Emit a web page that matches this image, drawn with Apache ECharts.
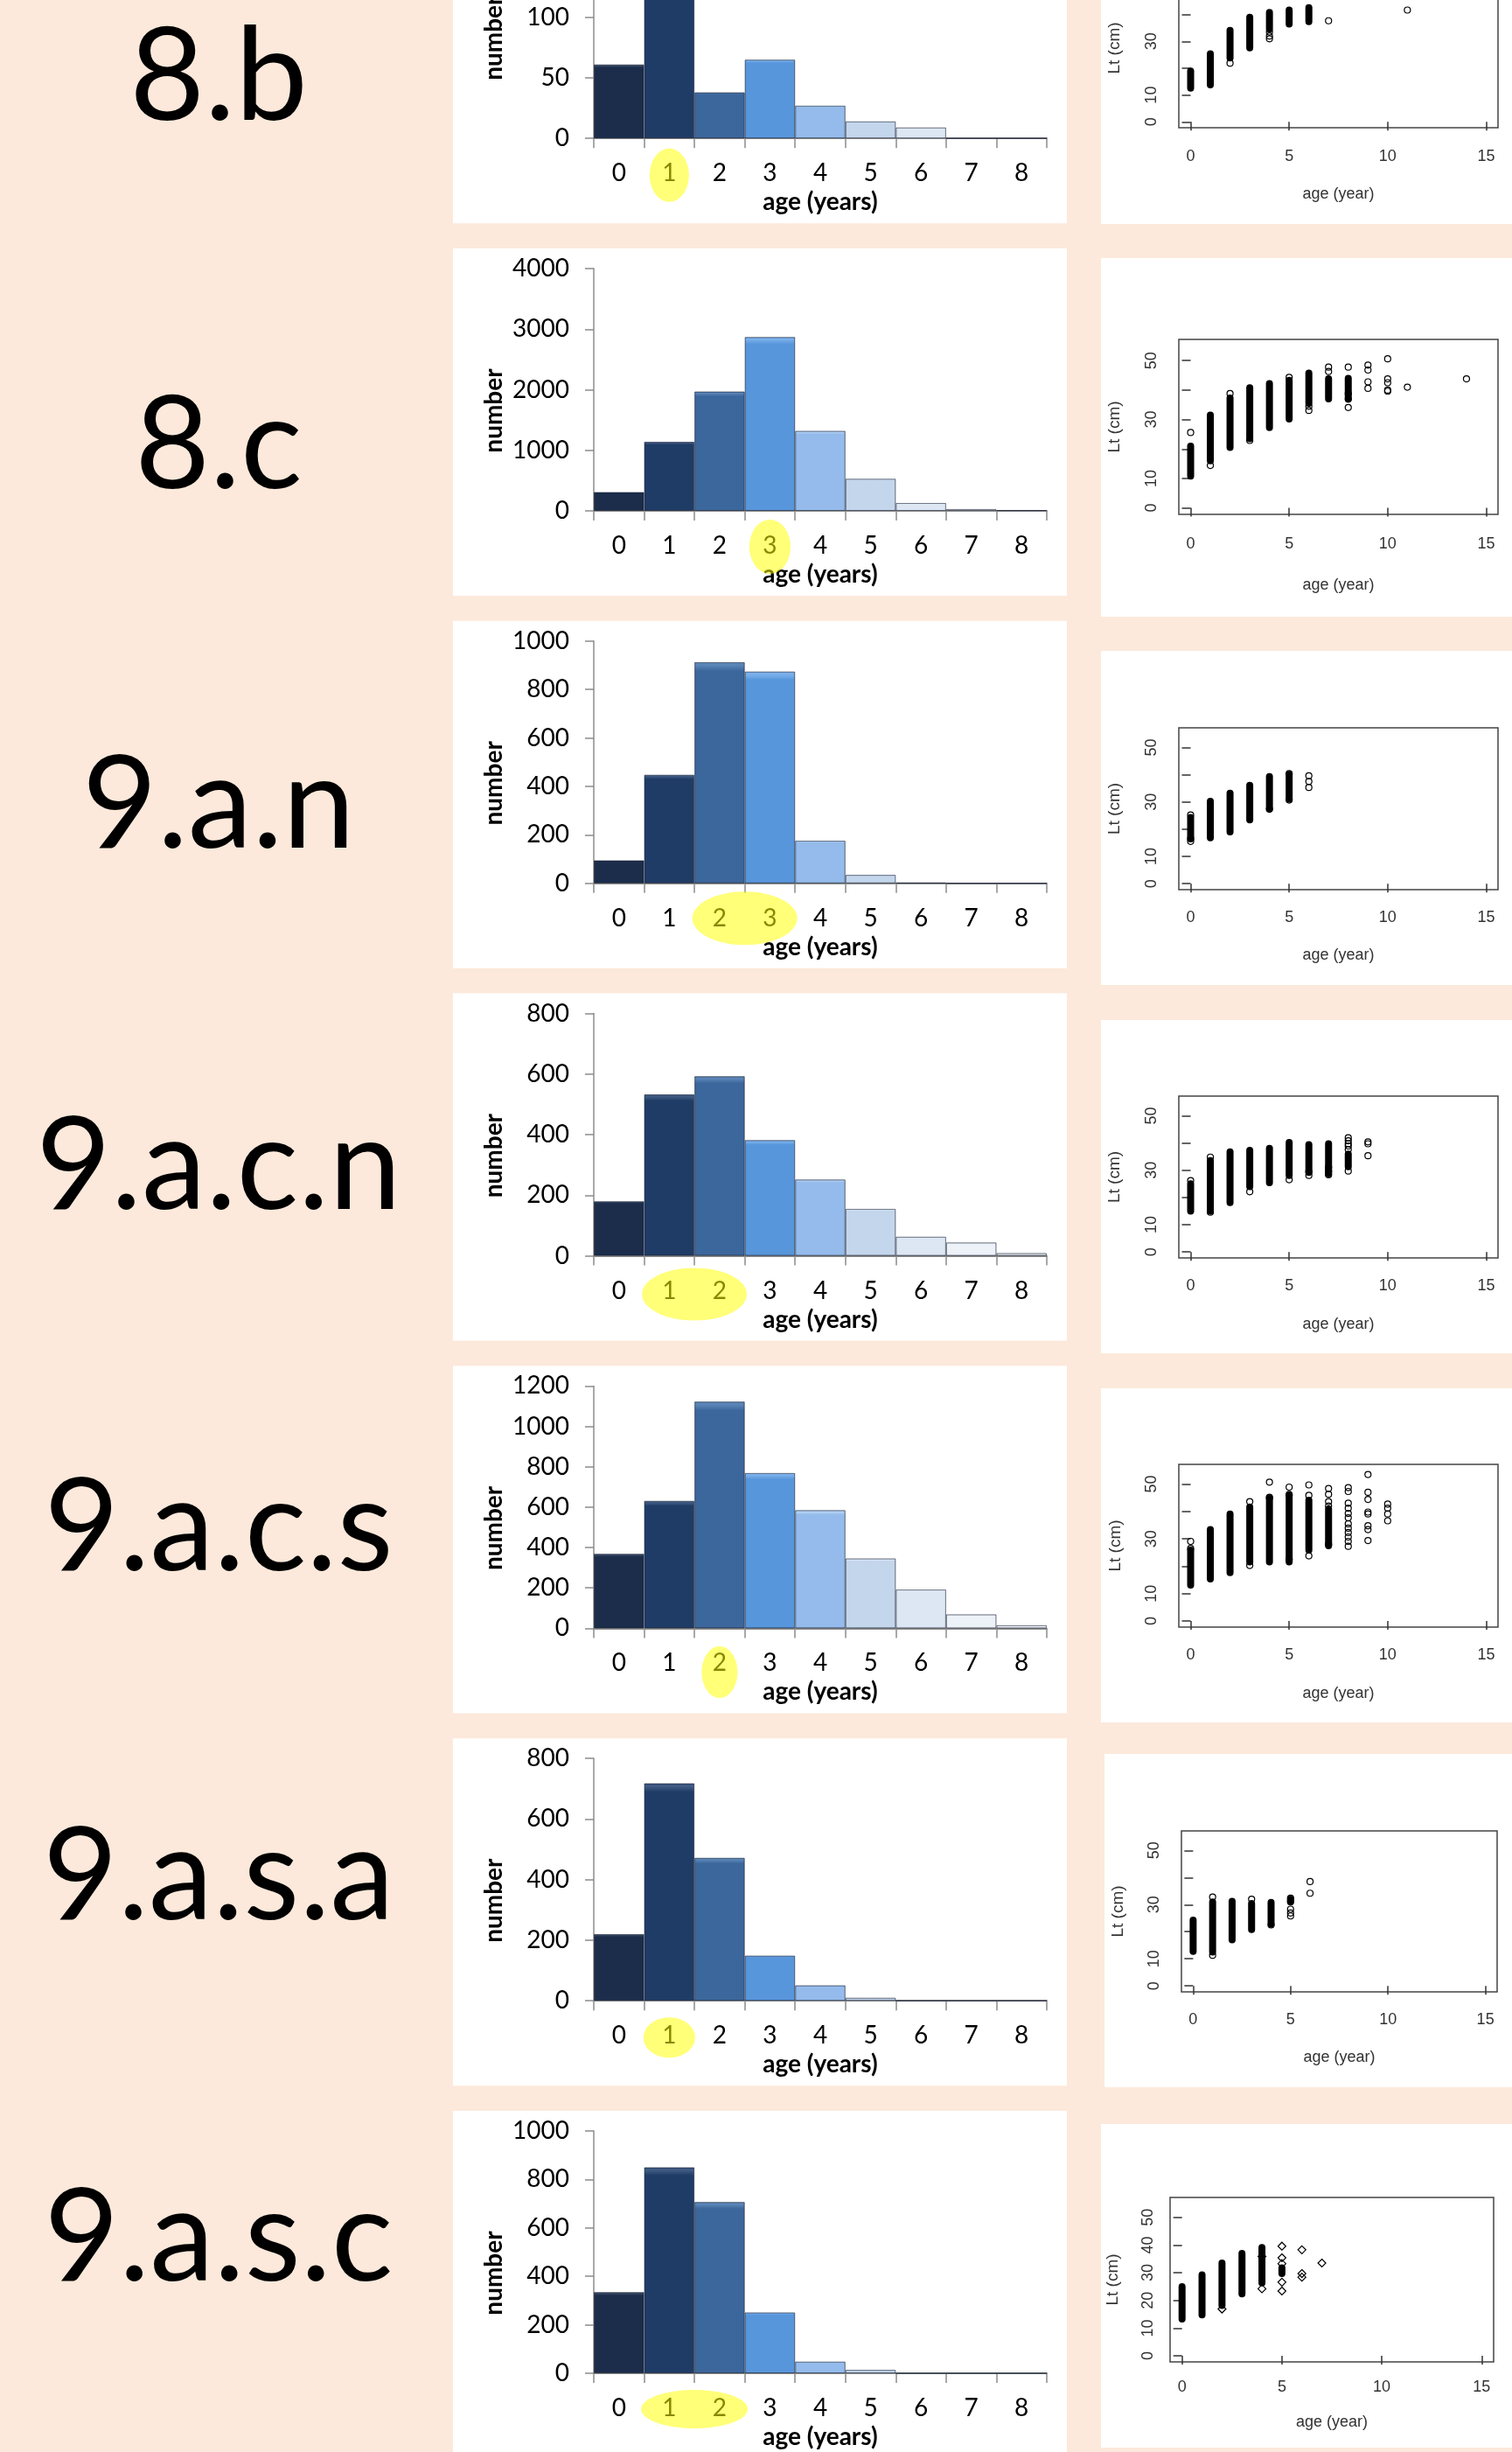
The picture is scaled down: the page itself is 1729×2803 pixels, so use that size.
<!DOCTYPE html>
<html>
<head>
<meta charset="utf-8">
<script src="https://cdn.jsdelivr.net/npm/echarts@6/dist/echarts.min.js"></script>
<style>
  html, body { margin: 0; padding: 0; background: #fce9db; }
  #main { width: 1729px; height: 2803px; }
</style>
</head>
<body>
<div id="main"></div>
<script>
// group codes, one row each
const groups = ['8.b', '8.c', '9.a.n', '9.a.c.n', '9.a.c.s', '9.a.s.a', '9.a.s.c'];
const ages = ['0', '1', '2', '3', '4', '5', '6', '7', '8'];

// number of fish per age class
const count8b   = [61, 150, 38, 65, 27, 14, 9, 0, 0];
const count8c   = [310, 1140, 1970, 2870, 1320, 530, 130, 30, 10];
const count9an  = [95, 448, 913, 874, 176, 35, 3, 0, 0];
const count9acn = [180, 533, 593, 382, 252, 155, 63, 44, 9];
const count9acs = [369, 631, 1123, 769, 585, 346, 192, 69, 15];
const count9asa = [220, 718, 472, 149, 51, 10, 0, 0, 0];
const count9asc = [335, 850, 707, 251, 48, 14, 0, 0, 0];
const counts = [count8b, count8c, count9an, count9acn, count9acs, count9asa, count9asc];

// value axis of each histogram
const countMax  = [200, 4000, 1000, 800, 1200, 800, 1000];
const countStep = [50, 1000, 200, 200, 200, 200, 200];

// age classes marked in yellow
const marked = [[1], [3], [2, 3], [1, 2], [2], [1], [1, 2]];

// length at age: dense runs [age, min, max] and single fish [age, length]
const run8b = [[0, 12.6, 18.9], [1, 13.8, 25.4], [2, 23.8, 34.1], [3, 27.6, 39], [4, 34.6, 40.8], [5, 36.5, 41.7], [6, 37.4, 42.6]];
const fish8b = [[2, 21.9], [4, 33.5], [4, 32], [4, 31], [7, 37.7], [11, 41.7]];
const run8c = [[0, 10.8, 21], [1, 16, 31.5], [2, 20.5, 37.3], [3, 23.5, 40.8], [4, 27.3, 42.2], [5, 30.2, 43.3], [6, 35.5, 45.8], [7, 37, 43.8], [8, 37, 44]];
const fish8c = [[0, 25.6], [1, 14.4], [2, 38.8], [3, 22.9], [5, 44.3], [6, 33.1], [6, 34.5], [7, 47.8], [7, 46.3], [8, 47.8], [8, 38.8], [8, 36.9], [8, 34.1],
  [9, 48.5], [9, 46.8], [9, 42.8], [9, 40.6], [10, 50.6], [10, 43.8], [10, 42.5], [10, 40], [10, 39.6], [11, 41], [14, 43.8]];
const run9an = [[0, 16.5, 24.3], [1, 16.8, 30.2], [2, 19, 33.2], [3, 23.4, 36.1], [4, 27.5, 39.3], [5, 31, 40.1]];
const fish9an = [[0, 25.2], [0, 15.5], [0, 16.5], [4, 27.3], [5, 30.7], [5, 40.4], [6, 39.6], [6, 37.5], [6, 35.3]];
const run9acn = [[0, 15, 25], [1, 15, 33.5], [2, 18.1, 36.7], [3, 24, 37.3], [4, 25.4, 38], [5, 28.1, 40.2], [6, 29.2, 39.4], [7, 28.6, 39.7], [8, 31.3, 35.9]];
const fish9acn = [[0, 26.2], [1, 34.8], [1, 14.6], [3, 22.1], [5, 26.5], [6, 28.1], [6, 29.5], [7, 28.3], [7, 29.6], [7, 31],
  [8, 41.9], [8, 40.8], [8, 39.7], [8, 38.9], [8, 37.6], [8, 29.7], [9, 40.4], [9, 39.7], [9, 35.3]];
const run9acs = [[0, 13.1, 25.9], [1, 15.4, 33.4], [2, 17.7, 39.1], [3, 21.6, 41.6], [4, 21.6, 45.2], [5, 21.6, 46.3], [6, 25.9, 44.1], [7, 27.5, 40.9]];
const fish9acs = [[0, 29.1], [0, 26.5], [1, 30.5], [3, 43.6], [3, 20.3], [4, 50.7], [4, 45], [5, 48.9], [5, 46], [5, 22.5], [6, 49.7], [6, 45.9], [6, 23.8],
  [7, 48.4], [7, 46.3], [7, 43.6], [7, 42], [7, 28], [8, 48.7], [8, 47.3], [8, 43], [8, 41.2], [8, 39.3], [8, 37.7], [8, 35.5], [8, 33.9], [8, 32.3],
  [8, 30.7], [8, 29.1], [8, 27.3], [9, 53.5], [9, 47], [9, 44.4], [9, 39.8], [9, 39.1], [9, 34.8], [9, 33.4], [9, 29.4],
  [10, 42.7], [10, 41.2], [10, 39.1], [10, 36.6]];
const run9asa = [[0, 12.7, 24.3], [1, 12.5, 31], [2, 17, 31.2], [3, 20.8, 30.4], [4, 22.7, 30.8], [5, 31, 32]];
const fish9asa = [[1, 32.8], [1, 11.3], [3, 32], [4, 22.5], [5, 32.4], [5, 31.2], [5, 28.3], [5, 26.9], [5, 25.8], [6, 38.5], [6, 34.2]];
const run9asc = [[0, 13.3, 25], [1, 14.8, 29.2], [2, 18.2, 33.5], [3, 22.4, 37], [4, 26.3, 39.1], [5, 29.7, 31.8]];
const fish9asc = [[2, 16.9], [4, 35.9], [4, 24.2], [5, 39.6], [5, 35.4], [5, 33.3], [5, 26.6], [5, 23.4], [6, 38.3], [6, 29.7], [6, 28.4], [7, 33.5]];
const runs = [run8b, run8c, run9an, run9acn, run9acs, run9asa, run9asc];
const fishes = [fish8b, fish8c, fish9an, fish9acn, fish9acs, fish9asa, fish9asc];

const ageTicks = [0, 5, 10, 15];
const lenTicks = [0, 10, 20, 30, 40, 50];
const lenLabels = [0, 10, 30, 50];

// ---- layout / style ----
const rowStep = 425.8;
const barColors = ['#1b2d4b', '#1f3c66', '#3c679c', '#5896dc', '#94bbeb', '#c4d6ec', '#dde7f4', '#edf2f9', '#f5f8fc'];
const barTops = ['#3a4a66', '#3f5a82', '#5a84b6', '#79b0ea', '#b4d2f5', '#dde9f8', '#eef4fb', '#f7faff', '#ffffff'];
const titleY = [89, 510, 921, 1334, 1747, 2146, 2559];
const markStyle = [
  { w: 45, h: 61, dy: 42 }, { w: 47, h: 62, dy: 41 }, { w: 120, h: 61, dy: 40 }, { w: 120, h: 60, dy: 44 },
  { w: 41, h: 59, dy: 50 }, { w: 59, h: 46, dy: 42 }, { w: 122, h: 44, dy: 41 }
];
// scatter panels: white card and plot box
const scPanel = [[1259, -150, 406], [1259, 295, 410], [1259, 744, 382], [1259, 1166, 381], [1259, 1587, 382], [1263, 2005, 381], [1259, 2428, 370]];
const scBox = [[1348, -36, 365, 182], [1348, 388, 365, 200], [1348, 832, 365, 185], [1348, 1253, 365, 185], [1348, 1674, 365, 186], [1351, 2093, 361, 184], [1338, 2512, 370, 188]];
const scLabMargin = [24, 25, 23, 23, 23, 23, 20];
const scNameGap = [67, 72, 66, 67, 67, 66, 60];
const scYNameGap = [64, 64, 64, 64, 63, 63, 56];
const scYLabMargin = [22, 22, 22, 22, 22, 22, 16];

const latin = 'Lato, "Open Sans", sans-serif';
const arial = '"Liberation Sans", Arial, sans-serif';

const chart = echarts.init(document.getElementById('main'), null, { renderer: 'canvas' });

const grid = [], xAxis = [], yAxis = [], series = [], graphic = [];

groups.forEach((g, i) => {
  const pTop = 284 + (i - 1) * rowStep;
  // panels
  graphic.push({ type: 'rect', z: -1, shape: { x: 518, y: pTop, width: 702, height: 397 }, style: { fill: '#fff' } });
  const sp = scPanel[i];
  graphic.push({ type: 'rect', z: -1, shape: { x: sp[0], y: sp[1], width: 1729 - sp[0], height: sp[2] }, style: { fill: '#fff' } });
  graphic.push({
    type: 'text', z: 5, x: 250, y: titleY[i],
    style: { text: g, font: '148px ' + latin, fill: '#000', align: 'center', verticalAlign: 'middle' }
  });

  // histogram
  grid.push({ left: 679, top: pTop + 23, width: 518, height: 277, outerBoundsMode: 'none', containLabel: false });
  xAxis.push({
    gridIndex: 2 * i, type: 'category', data: ages, boundaryGap: true,
    axisLine: { lineStyle: { color: '#8c8c8c', width: 2 } },
    axisTick: { show: true, interval: 0, length: 11, lineStyle: { color: '#8c8c8c', width: 1.5 } },
    axisLabel: { interval: 0, fontFamily: latin, fontSize: 28, color: '#000', margin: 26 },
    name: 'age (years)', nameLocation: 'middle', nameGap: 59, nameMoveOverlap: false,
    nameTextStyle: { fontFamily: latin, fontSize: 28, fontWeight: 'bold', color: '#000' }
  });
  yAxis.push({
    gridIndex: 2 * i, type: 'value', min: 0, max: countMax[i], interval: countStep[i],
    splitLine: { show: false },
    axisLine: { show: true, lineStyle: { color: '#8c8c8c', width: 1.5 } },
    axisTick: { show: true, length: 10, lineStyle: { color: '#8c8c8c', width: 1.5 } },
    axisLabel: { fontFamily: latin, fontSize: 28, color: '#000', margin: 28, formatter: v => String(v) },
    name: 'number', nameLocation: 'middle', nameGap: 100, nameRotate: 90, nameMoveOverlap: false,
    nameTextStyle: { fontFamily: latin, fontSize: 28, fontWeight: 'bold', color: '#000', padding: [0, 48, 0, 0] }
  });
  series.push({
    type: 'bar', xAxisIndex: 2 * i, yAxisIndex: 2 * i, barCategoryGap: 0, barGap: 0, silent: true,
    data: counts[i].map((v, k) => ({
      value: v,
      itemStyle: {
        color: new echarts.graphic.LinearGradient(0, 0, 0, 1, [
          { offset: 0, color: barTops[k] }, { offset: 0.015, color: barTops[k] },
          { offset: 0.04, color: barColors[k] }, { offset: 1, color: barColors[k] }
        ]),
        borderColor: 'rgba(20,30,50,0.35)', borderWidth: 1
      }
    }))
  });

  // length at age plot
  const b = scBox[i];
  grid.push({
    left: b[0], top: b[1], width: b[2], height: b[3], show: true, borderColor: '#444', borderWidth: 1.5,
    backgroundColor: 'transparent', outerBoundsMode: 'none', containLabel: false
  });
  xAxis.push({
    gridIndex: 2 * i + 1, type: 'value', min: -0.6, max: 15.6,
    splitLine: { show: false }, axisLine: { show: false },
    axisTick: { show: true, length: 10, customValues: ageTicks, lineStyle: { color: '#333', width: 1.5 } },
    axisLabel: { customValues: ageTicks, fontFamily: arial, fontSize: 18, color: '#333', margin: scLabMargin[i] },
    name: 'age (year)', nameLocation: 'middle', nameGap: scNameGap[i], nameMoveOverlap: false,
    nameTextStyle: { fontFamily: arial, fontSize: 18, color: '#333' }
  });
  yAxis.push({
    gridIndex: 2 * i + 1, type: 'value', min: -2.2, max: 57.2,
    splitLine: { show: false }, axisLine: { show: false },
    axisTick: { show: true, length: 10, customValues: lenTicks, lineStyle: { color: '#333', width: 1.5 } },
    axisLabel: {
      customValues: i === 6 ? lenTicks : lenLabels, rotate: 90, fontFamily: arial, fontSize: 18, color: '#333',
      margin: scYLabMargin[i]
    },
    name: 'Lt (cm)', nameLocation: 'middle', nameGap: scYNameGap[i], nameRotate: 90, nameMoveOverlap: false,
    nameTextStyle: { fontFamily: arial, fontSize: 19, color: '#333' }
  });
  series.push({
    type: 'custom', xAxisIndex: 2 * i + 1, yAxisIndex: 2 * i + 1, silent: true,
    encode: { x: 0, y: [1, 2] },
    data: runs[i],
    renderItem: (params, api) => {
      const hi = api.coord([api.value(0), api.value(2)]);
      const lo = api.coord([api.value(0), api.value(1)]);
      return {
        type: 'rect',
        shape: { x: hi[0] - 4, y: hi[1] - 4, width: 8, height: lo[1] - hi[1] + 8, r: 4 },
        style: { fill: '#000' }
      };
    }
  });
  series.push({
    type: 'scatter', xAxisIndex: 2 * i + 1, yAxisIndex: 2 * i + 1, silent: true,
    symbol: i === 6 ? 'diamond' : 'circle', symbolSize: i === 6 ? 9 : 7,
    itemStyle: { color: 'rgba(0,0,0,0)', borderColor: '#000', borderWidth: 1.2, opacity: 1 },
    data: fishes[i]
  });
});

chart.setOption({
  animation: false,
  backgroundColor: '#fce9db',
  grid: grid, xAxis: xAxis, yAxis: yAxis, series: series, graphic: graphic
});

// yellow marks over the highlighted age labels
const marks = [];
marked.forEach((cats, i) => {
  const px = cats.map(c => chart.convertToPixel({ gridIndex: 2 * i }, [c, 0]));
  const cx = px.reduce((s, p) => s + p[0], 0) / px.length;
  const cy = px[0][1] + markStyle[i].dy;
  marks.push({
    type: 'ellipse', z: 100, silent: true,
    shape: { cx: cx, cy: cy, rx: markStyle[i].w / 2, ry: markStyle[i].h / 2 },
    style: { fill: 'rgba(255,255,0,0.53)' }
  });
});
chart.setOption({ graphic: graphic.concat(marks) });
</script>
</body>
</html>
